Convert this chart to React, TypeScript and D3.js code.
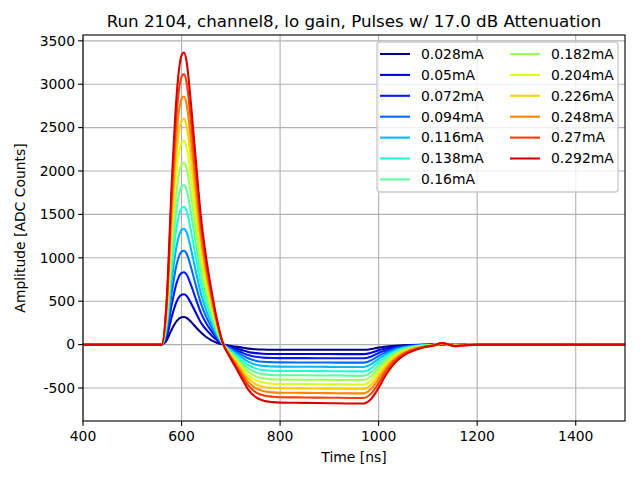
import React from 'react';
import * as d3 from 'd3';

// sample times [ns]
const times = [
  400, 560, 570, 580, 590, 600, 605, 610, 620, 630, 640, 650, 660, 670, 685,
  695, 710, 720, 735, 750, 765, 785, 800, 850, 900, 950, 970,
  985, 1000, 1013, 1027, 1040, 1060, 1087, 1114, 1128, 1140, 1155, 1175, 1200, 1500,
];

const currents = [
  '0.028', '0.05', '0.072', '0.094', '0.116', '0.138', '0.16',
  '0.182', '0.204', '0.226', '0.248', '0.27', '0.292',
];

// amplitudes [ADC counts], one array per current
const s028 = [0, 0, 50, 175, 271, 315, 318, 309, 257, 195, 136, 88, 52, 25, 0,
  -10, -23, -32, -46, -53, -57, -59, -59, -59, -60, -60, -60,
  -51, -35, -25, -16, -10, -4, -1, 0, 2, 1, -2, -1, 0, 0];
const s050 = [0, 0, 92, 319, 495, 574, 580, 564, 469, 355, 248, 172, 112, 59, 0,
  -19, -43, -59, -84, -98, -105, -108, -108, -109, -109, -110, -110,
  -94, -65, -47, -31, -19, -8, -3, 0, 3, 1, -3, -1, 0, 0];
const s072 = [0, 0, 132, 458, 711, 825, 833, 810, 673, 510, 357, 247, 161, 84, 0,
  -27, -62, -85, -120, -141, -150, -155, -156, -156, -157, -158, -158,
  -136, -96, -70, -45, -29, -13, -4, 0, 5, 2, -5, -2, 0, 0];
const s094 = [0, 0, 171, 595, 923, 1071, 1082, 1052, 874, 662, 463, 321, 209, 109, 0,
  -35, -81, -112, -158, -185, -198, -203, -205, -206, -207, -208, -208,
  -181, -129, -93, -61, -40, -18, -6, -1, 6, 2, -6, -2, 0, 0];
const s116 = [0, 0, 211, 734, 1139, 1322, 1335, 1298, 1079, 817, 571, 396, 258, 135, 0,
  -44, -101, -139, -196, -230, -245, -252, -254, -255, -257, -258, -258,
  -225, -163, -118, -78, -51, -24, -8, -1, 7, 2, -7, -3, 0, 0];
const s138 = [0, 0, 251, 874, 1355, 1573, 1589, 1545, 1284, 972, 680, 472, 307, 160, 0,
  -52, -120, -166, -234, -274, -293, -301, -303, -305, -306, -308, -308,
  -271, -199, -144, -96, -63, -31, -11, -2, 9, 3, -9, -4, 0, 0];
const s160 = [0, 0, 290, 1011, 1568, 1820, 1838, 1787, 1485, 1125, 787, 546, 355, 186, 0,
  -61, -140, -193, -272, -319, -340, -350, -353, -354, -356, -358, -358,
  -317, -236, -171, -114, -76, -38, -14, -2, 10, 3, -10, -4, 0, 0];
const s182 = [0, 0, 331, 1152, 1787, 2074, 2095, 2036, 1693, 1282, 897, 622, 404, 212, 0,
  -69, -159, -220, -310, -363, -388, -399, -402, -404, -406, -408, -408,
  -364, -273, -199, -133, -89, -45, -17, -3, 11, 3, -11, -4, 0, 0];
const s204 = [0, 0, 371, 1292, 2004, 2326, 2349, 2283, 1898, 1438, 1005, 698, 453, 237, 0,
  -78, -179, -248, -350, -409, -437, -450, -453, -455, -458, -460, -460,
  -413, -314, -229, -154, -104, -54, -20, -4, 13, 4, -13, -5, 0, 0];
const s226 = [0, 0, 411, 1431, 2219, 2576, 2602, 2529, 2102, 1592, 1114, 773, 502, 263, 0,
  -87, -199, -275, -388, -454, -485, -499, -502, -505, -507, -510, -510,
  -461, -355, -259, -175, -118, -63, -24, -5, 14, 4, -14, -6, 0, 0];
const s248 = [0, 0, 452, 1572, 2439, 2830, 2859, 2779, 2310, 1750, 1224, 849, 552, 289, 0,
  -96, -219, -303, -427, -500, -534, -550, -554, -556, -559, -562, -562,
  -510, -398, -291, -198, -134, -72, -28, -6, 15, 5, -15, -6, 0, 0];
const s270 = [0, 0, 492, 1714, 2658, 3085, 3116, 3029, 2518, 1907, 1334, 925, 601, 315, 0,
  -105, -240, -332, -467, -547, -584, -601, -606, -609, -612, -615, -615,
  -562, -444, -324, -221, -151, -83, -33, -7, 17, 5, -17, -7, 0, 0];
const s292 = [0, 0, 532, 1851, 2870, 3331, 3365, 3271, 2719, 2059, 1440, 999, 649, 340, 0,
  -115, -264, -366, -515, -603, -644, -663, -668, -671, -675, -678, -678,
  -624, -498, -364, -250, -172, -96, -38, -8, 18, 5, -18, -7, 0, 0];

const waveforms = [s028, s050, s072, s094, s116, s138, s160, s182, s204, s226, s248, s270, s292];

const xTicks = [400, 600, 800, 1000, 1200, 1400];
const yTicks = [-500, 0, 500, 1000, 1500, 2000, 2500, 3000, 3500];

// matplotlib 'jet' segment data
const jetR: [number, number][] = [[0, 0], [0.35, 0], [0.66, 1], [0.89, 1], [1, 0.5]];
const jetG: [number, number][] = [[0, 0], [0.125, 0], [0.375, 1], [0.64, 1], [0.91, 0], [1, 0]];
const jetB: [number, number][] = [[0, 0.5], [0.11, 1], [0.34, 1], [0.65, 0], [1, 0]];
const seg = (s: [number, number][], t: number) =>
  d3.scaleLinear().domain(s.map((d) => d[0])).range(s.map((d) => d[1])).clamp(true)(t);
const jet = (t: number) =>
  d3.rgb(seg(jetR, t) * 255, seg(jetG, t) * 255, seg(jetB, t) * 255).formatHex();

const W = 640;
const H = 480;
const left = 83;
const right = 625;
const top = 35;
const bottom = 421;
const font = 'DejaVu Sans, sans-serif';
const pt = 100 / 72; // points -> px at 100 dpi

export default function App() {
  const x = d3.scaleLinear().domain([400, 1500]).range([left, right]);
  const all = waveforms.flat();
  const lo = d3.min(all)!;
  const hi = d3.max(all)!;
  const pad = (hi - lo) * 0.05;
  const y = d3.scaleLinear().domain([lo - pad, hi + pad]).range([bottom, top]);

  const line = d3
    .line<number>()
    .x((_, i) => x(times[i]))
    .y((d) => y(d))
    .curve(d3.curveMonotoneX);

  const colors = currents.map((_, i) => jet(i / currents.length));

  const legX = 377;
  const legY = 42;
  const rowH = 20.9;
  const rows = 7;

  return (
    <svg
      width={W}
      height={H}
      style={{ position: 'fixed', left: 0, top: 0, background: '#fff' }}
      fontFamily={font}
    >
      <defs>
        <clipPath id="plot">
          <rect x={left} y={top} width={right - left} height={bottom - top} />
        </clipPath>
      </defs>
      <rect width={W} height={H} fill="#fff" />

      {/* grid */}
      {xTicks.map((t) => (
        <line key={'gx' + t} x1={x(t)} x2={x(t)} y1={top} y2={bottom} stroke="#b0b0b0" strokeWidth={0.8 * pt} />
      ))}
      {yTicks.map((t) => (
        <line key={'gy' + t} x1={left} x2={right} y1={y(t)} y2={y(t)} stroke="#b0b0b0" strokeWidth={0.8 * pt} />
      ))}

      {/* waveforms */}
      <g clipPath="url(#plot)">
        {waveforms.map((w, i) => (
          <path key={currents[i]} d={line(w) ?? ''} fill="none" stroke={colors[i]} strokeWidth={1.5 * pt} strokeLinejoin="round" strokeLinecap="square" />
        ))}
      </g>

      {/* spines */}
      <rect x={left} y={top} width={right - left} height={bottom - top} fill="none" stroke="#000" strokeWidth={0.8 * pt} />

      {/* x axis */}
      {xTicks.map((t) => (
        <g key={'tx' + t}>
          <line x1={x(t)} x2={x(t)} y1={bottom} y2={bottom + 3.5 * pt} stroke="#000" strokeWidth={0.8 * pt} />
          <text x={x(t)} y={bottom + 20} textAnchor="middle" fontSize={13.9}>
            {t}
          </text>
        </g>
      ))}
      <text x={(left + right) / 2} y={462} textAnchor="middle" fontSize={13.9}>
        Time [ns]
      </text>

      {/* y axis */}
      {yTicks.map((t) => (
        <g key={'ty' + t}>
          <line x1={left - 3.5 * pt} x2={left} y1={y(t)} y2={y(t)} stroke="#000" strokeWidth={0.8 * pt} />
          <text x={left - 8} y={y(t)} dy="0.35em" textAnchor="end" fontSize={13.9}>
            {t}
          </text>
        </g>
      ))}
      <text
        transform={`translate(25,${(top + bottom) / 2}) rotate(-90)`}
        textAnchor="middle"
        fontSize={13.9}
      >
        Amplitude [ADC Counts]
      </text>

      {/* title */}
      <text x={(left + right) / 2} y={27} textAnchor="middle" fontSize={16.7}>
        Run 2104, channel8, lo gain, Pulses w/ 17.0 dB Attenuation
      </text>

      {/* legend */}
      <rect x={legX} y={legY} width={241} height={150} rx={3} fill="#fff" fillOpacity={0.8} stroke="#cccccc" strokeWidth={pt} />
      {currents.map((c, i) => {
        const col = Math.floor(i / rows);
        const row = i % rows;
        const cy = legY + 12 + row * rowH;
        const hx = legX + 3 + col * 130;
        return (
          <g key={'lg' + c}>
            <line x1={hx} x2={hx + 30} y1={cy} y2={cy} stroke={colors[i]} strokeWidth={1.5 * pt} />
            <text x={hx + 41} y={cy} dy="0.35em" fontSize={13.9}>
              {c}mA
            </text>
          </g>
        );
      })}
    </svg>
  );
}
